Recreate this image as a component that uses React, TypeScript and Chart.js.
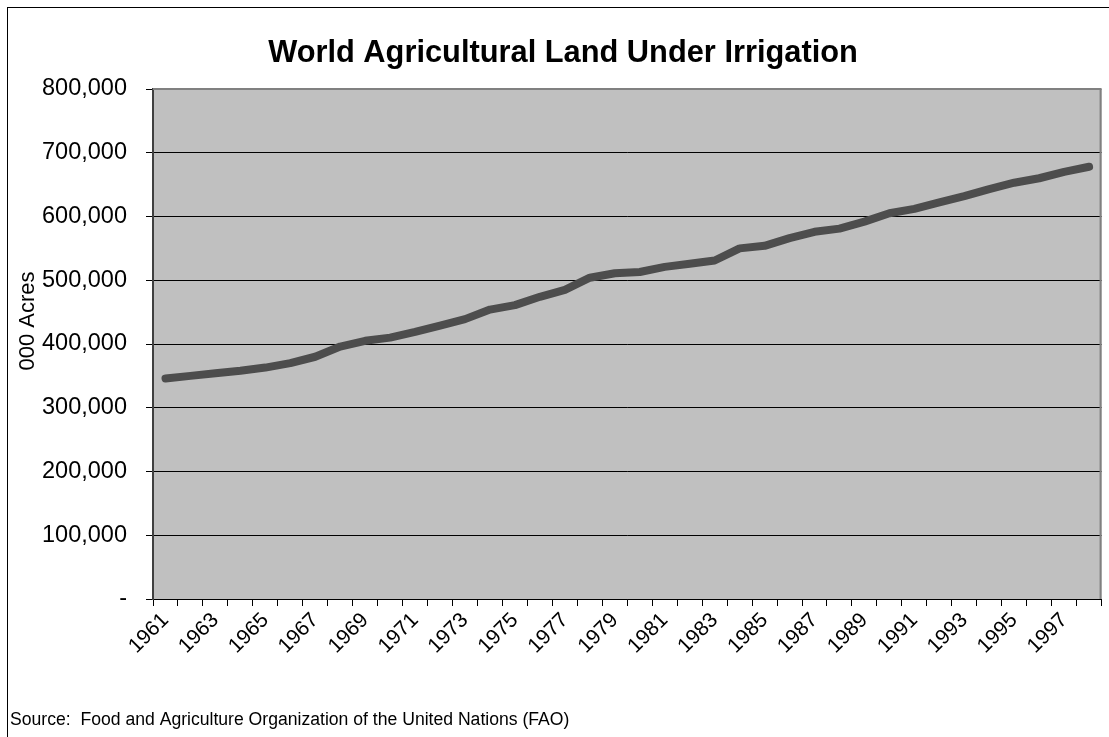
import { useEffect, useRef } from "react";
import { Chart, registerables } from "chart.js";

Chart.register(...registerables);

// Irrigated agricultural land, thousands of acres, 1961–1998
const years = [
  "1961", "1962", "1963", "1964", "1965", "1966", "1967", "1968", "1969", "1970",
  "1971", "1972", "1973", "1974", "1975", "1976", "1977", "1978", "1979", "1980",
  "1981", "1982", "1983", "1984", "1985", "1986", "1987", "1988", "1989", "1990",
  "1991", "1992", "1993", "1994", "1995", "1996", "1997", "1998",
];

const irrigatedLand = [
  346000, 350000, 354000, 358000, 363000, 370000, 380000, 396000, 405000, 410000,
  419000, 429000, 439000, 454000, 461000, 474000, 485000, 504000, 511000, 513000,
  521000, 526000, 531000, 550000, 554000, 566000, 576000, 581000, 592000, 605000,
  612000, 622000, 632000, 643000, 653000, 660000, 670000, 678000,
];

const yMin = 0;
const yMax = 800000;
const yStep = 100000;

const chartTitle = "World Agricultural Land Under Irrigation";
const yAxisTitle = "000 Acres";
const sourceNote = "Source:  Food and Agriculture Organization of the United Nations (FAO)";

const FONT = "'Liberation Sans', Arial, Helvetica, sans-serif";

const WIDTH = 1109;
const HEIGHT = 737;

// Grey plot background and the lighter frame on the top and right edges
const plotFrame = {
  id: "plotFrame",
  beforeDraw(chart: any) {
    const { ctx, chartArea: a } = chart;
    ctx.save();
    ctx.fillStyle = "#c0c0c0";
    ctx.fillRect(a.left, a.top, a.right - a.left, a.bottom - a.top);
    ctx.restore();
  },
  beforeDatasetsDraw(chart: any) {
    const { ctx, chartArea: a } = chart;
    ctx.save();
    ctx.strokeStyle = "#808080";
    ctx.lineWidth = 2;
    ctx.beginPath();
    ctx.moveTo(a.left, a.top);
    ctx.lineTo(a.right - 1, a.top);
    ctx.lineTo(a.right - 1, a.bottom);
    ctx.stroke();
    ctx.restore();
  },
};

// Title, rotated axis caption and source line
const captions = {
  id: "captions",
  afterDraw(chart: any) {
    const { ctx } = chart;
    ctx.save();
    ctx.fillStyle = "#000";

    ctx.font = `bold 30.8px ${FONT}`;
    ctx.textAlign = "center";
    ctx.textBaseline = "alphabetic";
    ctx.fillText(chartTitle, 563, 62);

    ctx.save();
    ctx.translate(34, 321);
    ctx.rotate(-Math.PI / 2);
    ctx.font = `22px ${FONT}`;
    ctx.textAlign = "center";
    ctx.fillText(yAxisTitle, 0, 0);
    ctx.restore();

    ctx.font = `17.6px ${FONT}`;
    ctx.textAlign = "left";
    ctx.fillText(sourceNote, 10, 725);
    ctx.restore();
  },
};

export default function App() {
  const canvasRef = useRef<HTMLCanvasElement | null>(null);

  useEffect(() => {
    const canvas = canvasRef.current;
    if (!canvas) return;

    const chart = new Chart(canvas, {
      type: "line",
      data: {
        labels: years,
        datasets: [
          {
            data: irrigatedLand,
            borderColor: "#4d4d4d",
            borderWidth: 8,
            borderCapStyle: "round",
            borderJoinStyle: "round",
            pointRadius: 0,
            pointHoverRadius: 0,
            tension: 0,
            fill: false,
          },
        ],
      },
      options: {
        responsive: false,
        animation: false,
        devicePixelRatio: 1,
        layout: { padding: { top: 89, right: 6, left: 0, bottom: 0 } },
        plugins: {
          legend: { display: false },
          title: { display: false },
          tooltip: { enabled: false },
        },
        scales: {
          x: {
            type: "category",
            offset: true,
            grid: {
              offset: true,
              drawOnChartArea: false,
              drawTicks: true,
              tickLength: 7,
              color: "#000",
            },
            border: { color: "#000", width: 1 },
            ticks: {
              autoSkip: false,
              minRotation: 45,
              maxRotation: 45,
              padding: 2,
              color: "#000",
              font: { family: FONT, size: 21 },
              callback: (_v: any, i: number) => (i % 2 === 0 ? years[i] : ""),
            },
            afterFit: (s: any) => {
              s.height = 138;
            },
          },
          y: {
            min: yMin,
            max: yMax,
            grid: {
              color: (c: any) => (c.tick && c.tick.value === yMax ? "#808080" : "#000"),
              lineWidth: 1,
              drawTicks: true,
              tickLength: 7,
              tickColor: "#000",
            },
            border: { color: "#404040", width: 2 },
            ticks: {
              stepSize: yStep,
              padding: 19,
              color: "#000",
              font: { family: FONT, size: 23.5 },
              callback: (v: any) => (Number(v) === 0 ? "-" : Number(v).toLocaleString("en-US")),
            },
            afterFit: (s: any) => {
              s.width = 153;
            },
          },
        },
      },
      plugins: [plotFrame, captions],
    });

    return () => chart.destroy();
  }, []);

  return (
    <div style={{ position: "fixed", left: 0, top: 0, width: WIDTH, height: HEIGHT, background: "#fff" }}>
      <canvas ref={canvasRef} width={WIDTH} height={HEIGHT} style={{ display: "block" }} />
      <div
        style={{
          position: "absolute",
          left: 7,
          top: 7,
          width: 1120,
          height: 760,
          border: "1px solid #000",
          boxSizing: "border-box",
          pointerEvents: "none",
        }}
      />
    </div>
  );
}
